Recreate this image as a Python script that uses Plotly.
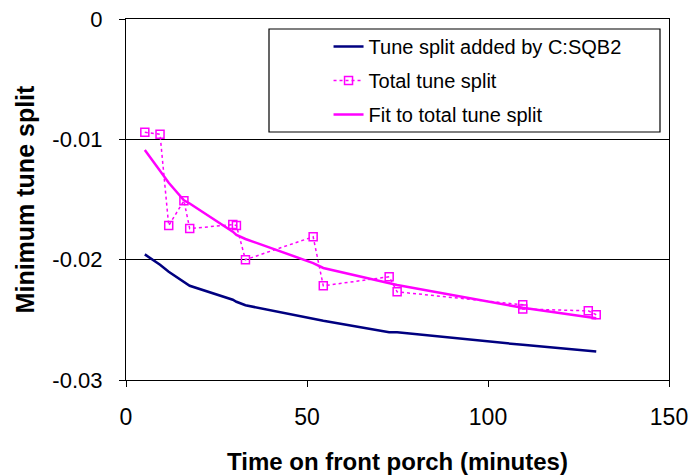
import plotly.graph_objects as go

time_min = [5.2, 9.4, 11.8, 16.0, 17.6, 29.5, 30.5, 33.0, 51.7, 54.5, 72.7, 74.9, 109.6, 109.6, 127.7, 129.9]
total_split = [-0.00942, -0.00958, -0.01717, -0.0151, -0.01742, -0.01708, -0.01717, -0.0200,
               -0.0181, -0.02217, -0.02142, -0.02267, -0.02375, -0.0241, -0.02425, -0.02458]
fit_split = [-0.01089, -0.01258, -0.01361, -0.01506, -0.01533, -0.01767, -0.01794, -0.01828,
             -0.02028, -0.02069, -0.02194, -0.02211, -0.0240, -0.0240, -0.02472, -0.02486]
sqb2_split = [-0.01956, -0.02042, -0.0210, -0.02183, -0.02217, -0.02333, -0.0235, -0.02379,
              -0.02496, -0.02508, -0.02603, -0.02604, -0.02708, -0.02708, -0.02754, -0.02764]

y_ticks = [0, -0.01, -0.02, -0.03]
y_tick_labels = ["0", "-0.01", "-0.02", "-0.03"]
x_ticks = [0, 50, 100, 150]

font = "Liberation Sans, Arial, sans-serif"

fig = go.Figure()
fig.add_trace(go.Scatter(x=time_min, y=sqb2_split, mode="lines", name="Tune split added by C:SQB2",
                         line=dict(color="#000080", width=2.5), legendgroup="a"))
fig.add_trace(go.Scatter(x=time_min, y=total_split, mode="lines+markers", name="Total tune split",
                         line=dict(color="#FF00FF", width=1.5, dash="dot"),
                         marker=dict(symbol="square-open", size=8, color="#FF00FF", line=dict(width=1.5)),
                         legendgroup="b"))
fig.add_trace(go.Scatter(x=time_min, y=fit_split, mode="lines", name="Fit to total tune split",
                         line=dict(color="#FF00FF", width=2.5), legendgroup="c"))

fig.update_layout(
    width=693, height=475,
    margin=dict(l=126, r=24, t=19, b=95),
    plot_bgcolor="white", paper_bgcolor="white",
    font=dict(family=font, color="black"),
    showlegend=True,
    legend=dict(x=0.373, y=0.978, xanchor="left", yanchor="top",
                bgcolor="rgba(0,0,0,0)", borderwidth=0,
                font=dict(size=20, family=font), tracegroupgap=5),
    shapes=[dict(type="rect", xref="paper", yref="paper",
                 x0=(269 - 126) / 543, x1=(660 - 126) / 543,
                 y0=1 - (132 - 19) / 361, y1=1 - (29 - 19) / 361,
                 line=dict(color="black", width=1.2), fillcolor="white", layer="below")],
)
fig.update_xaxes(range=[0, 150], tickvals=x_ticks, ticks="outside", ticklen=6, tickcolor="black",
                 showline=True, linecolor="black", linewidth=1.2, mirror=True, showgrid=False,
                 zeroline=False, tickfont=dict(size=23), ticklabelstandoff=10, automargin=False,
                 title=dict(text="<b>Time on front porch (minutes)</b>", font=dict(size=24), standoff=27))
fig.update_yaxes(range=[-0.03, 0], tickvals=y_ticks, ticktext=y_tick_labels, ticks="outside", ticklen=6,
                 tickcolor="black", showline=True, linecolor="black", linewidth=1.2, mirror=True,
                 showgrid=True, gridcolor="black", gridwidth=1.2, zeroline=False, tickfont=dict(size=22),
                 ticklabelstandoff=12, automargin=False,
                 title=dict(text="<b>Minimum tune split</b>", font=dict(size=25), standoff=10))

fig.write_html("out.html")
